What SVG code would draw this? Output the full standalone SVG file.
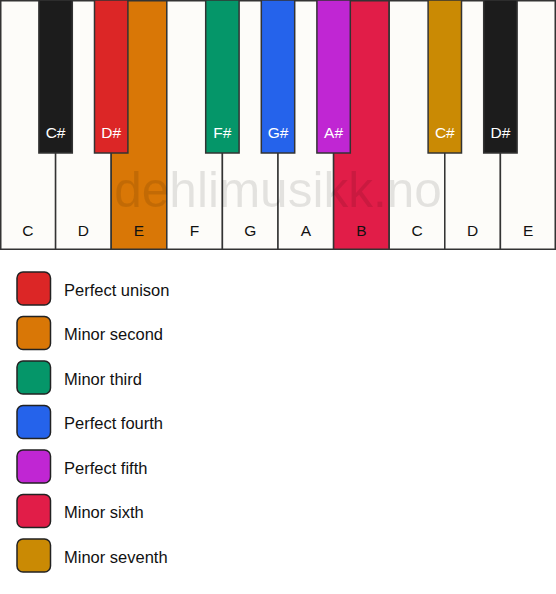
<svg xmlns="http://www.w3.org/2000/svg" width="556" height="594" viewBox="0 0 556 594">
<style>
.w{fill:#fdfcf9;stroke:#333;stroke-width:1.5}
.b{stroke:#333;stroke-width:1.5}
.wl{font-family:"Liberation Sans",Arial,sans-serif;font-size:15.5px;fill:#111;text-anchor:middle}
.bl{font-family:"Liberation Sans",Arial,sans-serif;font-size:15.5px;fill:#fff;text-anchor:middle}
.sw{stroke:#222;stroke-width:1.5}
.lt{font-family:"Liberation Sans",Arial,sans-serif;font-size:16.5px;fill:#111}
</style>
<rect width="556" height="594" fill="#ffffff"/>
<g id="white-keys">
<g id="key-C1"><rect class="w" x="0.75" y="0.75" width="54.85" height="248.5"/><text class="wl" x="27.8" y="236">C</text></g>
<g id="key-D1"><rect class="w" x="55.6" y="0.75" width="55.6" height="248.5"/><text class="wl" x="83.4" y="236">D</text></g>
<g id="key-E1"><rect class="w" x="111.2" y="0.75" width="55.6" height="248.5" style="fill:#d97706"/><text class="wl" x="139" y="236">E</text></g>
<g id="key-F1"><rect class="w" x="166.8" y="0.75" width="55.6" height="248.5"/><text class="wl" x="194.6" y="236">F</text></g>
<g id="key-G1"><rect class="w" x="222.4" y="0.75" width="55.6" height="248.5"/><text class="wl" x="250.2" y="236">G</text></g>
<g id="key-A1"><rect class="w" x="278" y="0.75" width="55.6" height="248.5"/><text class="wl" x="305.8" y="236">A</text></g>
<g id="key-B1"><rect class="w" x="333.6" y="0.75" width="55.6" height="248.5" style="fill:#e11d48"/><text class="wl" x="361.4" y="236">B</text></g>
<g id="key-C2"><rect class="w" x="389.2" y="0.75" width="55.6" height="248.5"/><text class="wl" x="417" y="236">C</text></g>
<g id="key-D2"><rect class="w" x="444.8" y="0.75" width="55.6" height="248.5"/><text class="wl" x="472.6" y="236">D</text></g>
<g id="key-E2"><rect class="w" x="500.4" y="0.75" width="54.85" height="248.5"/><text class="wl" x="528.2" y="236">E</text></g>
</g>
<text x="278" y="207" font-family="'Liberation Sans',Arial,sans-serif" font-size="49.5" fill="#000" fill-opacity="0.1" text-anchor="middle">dehlimusikk.no</text>
<g id="black-keys">
<g id="key-Cs1"><rect class="b" x="38.9" y="0" width="33.4" height="153" fill="#1c1c1c"/><text class="bl" x="55.6" y="138">C#</text></g>
<g id="key-Ds1"><rect class="b" x="94.5" y="0" width="33.4" height="153" fill="#dc2626"/><text class="bl" x="111.2" y="138">D#</text></g>
<g id="key-Fs1"><rect class="b" x="205.7" y="0" width="33.4" height="153" fill="#059669"/><text class="bl" x="222.4" y="138">F#</text></g>
<g id="key-Gs1"><rect class="b" x="261.3" y="0" width="33.4" height="153" fill="#2563eb"/><text class="bl" x="278" y="138">G#</text></g>
<g id="key-As1"><rect class="b" x="316.9" y="0" width="33.4" height="153" fill="#c026d3"/><text class="bl" x="333.6" y="138">A#</text></g>
<g id="key-Cs2"><rect class="b" x="428.1" y="0" width="33.4" height="153" fill="#ca8a04"/><text class="bl" x="444.8" y="138">C#</text></g>
<g id="key-Ds2"><rect class="b" x="483.7" y="0" width="33.4" height="153" fill="#1c1c1c"/><text class="bl" x="500.4" y="138">D#</text></g>
</g>
<g id="legend">
<g id="leg-unison"><rect class="sw" x="17" y="272" width="33.5" height="33" rx="6" fill="#dc2626"/><text class="lt" x="64" y="295.5">Perfect unison</text></g>
<g id="leg-m2"><rect class="sw" x="17" y="316.5" width="33.5" height="33" rx="6" fill="#d97706"/><text class="lt" x="64" y="340">Minor second</text></g>
<g id="leg-m3"><rect class="sw" x="17" y="361" width="33.5" height="33" rx="6" fill="#059669"/><text class="lt" x="64" y="384.5">Minor third</text></g>
<g id="leg-p4"><rect class="sw" x="17" y="405.5" width="33.5" height="33" rx="6" fill="#2563eb"/><text class="lt" x="64" y="429">Perfect fourth</text></g>
<g id="leg-p5"><rect class="sw" x="17" y="450" width="33.5" height="33" rx="6" fill="#c026d3"/><text class="lt" x="64" y="473.5">Perfect fifth</text></g>
<g id="leg-m6"><rect class="sw" x="17" y="494.5" width="33.5" height="33" rx="6" fill="#e11d48"/><text class="lt" x="64" y="518">Minor sixth</text></g>
<g id="leg-m7"><rect class="sw" x="17" y="539" width="33.5" height="33" rx="6" fill="#ca8a04"/><text class="lt" x="64" y="562.5">Minor seventh</text></g>
</g>
</svg>
